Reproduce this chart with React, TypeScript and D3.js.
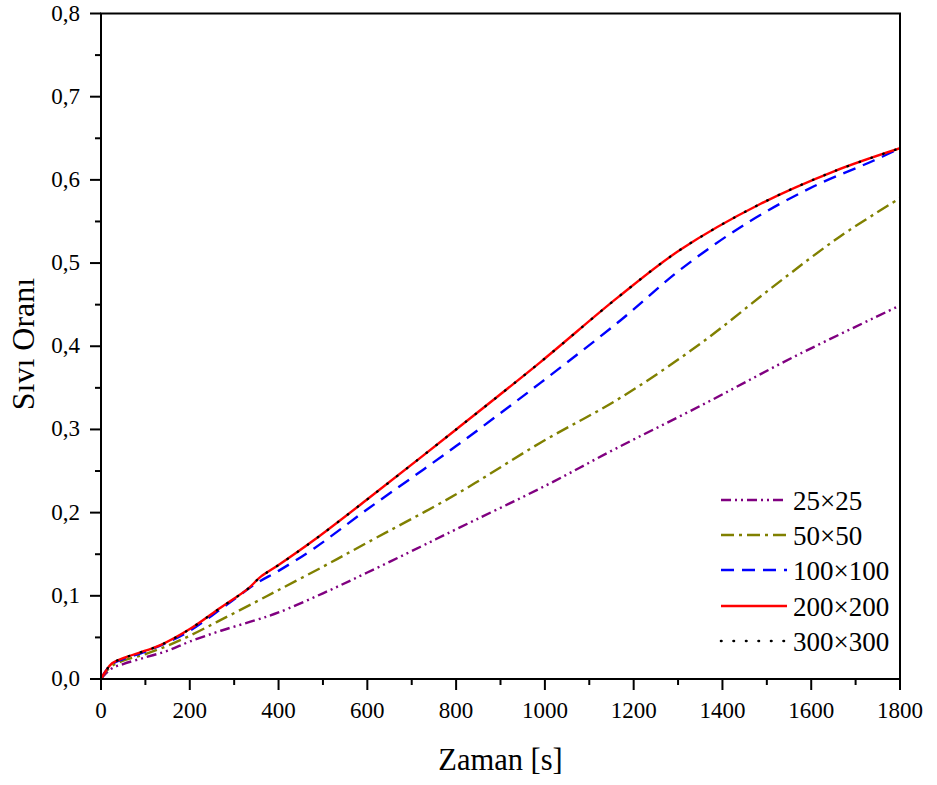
import React from "react";
import * as d3 from "d3";

const xTicks = [0, 200, 400, 600, 800, 1000, 1200, 1400, 1600, 1800];
const yTicks = [0, 0.1, 0.2, 0.3, 0.4, 0.5, 0.6, 0.7, 0.8];
const yTickLabels = ["0,0", "0,1", "0,2", "0,3", "0,4", "0,5", "0,6", "0,7", "0,8"];

const s25: [number, number][] = [
  [0, 0], [10, 0.006], [25, 0.013], [50, 0.018], [100, 0.026], [150, 0.034], [200, 0.045],
  [270, 0.058], [350, 0.071], [400, 0.08], [500, 0.103], [600, 0.128], [720, 0.159], [800, 0.18],
  [1000, 0.232], [1160, 0.277], [1360, 0.331], [1560, 0.387], [1800, 0.449],
];
const s50: [number, number][] = [
  [0, 0], [10, 0.008], [25, 0.016], [50, 0.022], [100, 0.03], [150, 0.04], [200, 0.052],
  [270, 0.071], [350, 0.093], [400, 0.107], [500, 0.135], [600, 0.164], [800, 0.222],
  [990, 0.284], [1170, 0.338], [1350, 0.403], [1515, 0.472], [1665, 0.532], [1800, 0.578],
];
const s100: [number, number][] = [
  [0, 0], [10, 0.009], [25, 0.018], [50, 0.024], [100, 0.033], [150, 0.044], [200, 0.058],
  [275, 0.086], [350, 0.115], [400, 0.13], [480, 0.157], [600, 0.204], [800, 0.28],
  [990, 0.356], [1170, 0.431], [1305, 0.492], [1455, 0.548], [1605, 0.592], [1740, 0.623], [1800, 0.638],
];
const s200: [number, number][] = [
  [0, 0], [10, 0.009], [25, 0.019], [50, 0.025], [100, 0.034], [135, 0.041], [200, 0.06],
  [270, 0.086], [330, 0.108], [360, 0.123], [400, 0.137], [480, 0.167], [600, 0.216], [800, 0.3],
  [990, 0.381], [1165, 0.459], [1305, 0.516], [1485, 0.571], [1650, 0.61], [1800, 0.638],
];
const s300: [number, number][] = s200.map(([t, v]) => [t, v]);

const seriesNames = ["25×25", "50×50", "100×100", "200×200", "300×300"];

const styles = [
  { color: "#800080", dash: "10,4,2,4,2,4", width: 2.4, cap: "butt" },
  { color: "#808000", dash: "13,5,3,5", width: 2.4, cap: "butt" },
  { color: "#0000FF", dash: "13,8", width: 2.4, cap: "butt" },
  { color: "#FF0000", dash: "", width: 2.4, cap: "butt" },
  { color: "#000000", dash: "0.5,12", width: 2.4, cap: "round" },
];

export default function App() {
  const W = 937, H = 785;
  const left = 101, right = 900, top = 13.5, bottom = 679;
  const x = d3.scaleLinear().domain([0, 1800]).range([left, right]);
  const y = d3.scaleLinear().domain([0, 0.8]).range([bottom, top]);
  const line = d3.line<[number, number]>().x((d) => x(d[0])).y((d) => y(d[1])).curve(d3.curveCatmullRom.alpha(0.5));
  const all = [s25, s50, s100, s200, s300];
  const font = "Liberation Serif, Times New Roman, serif";
  const ts = { fontFamily: font };
  const xMinor = d3.range(100, 1800, 200);
  const yMinor = d3.range(0.05, 0.8, 0.1);
  const legendY = [500, 535, 570, 606, 641];

  return (
    <svg width={W} height={H} style={{ position: "absolute", left: 0, top: 0 }}>
      <rect x={0} y={0} width={W} height={H} fill="#fff" />
      <defs>
        <clipPath id="plot">
          <rect x={left} y={top} width={right - left} height={bottom - top} />
        </clipPath>
      </defs>
      <g clipPath="url(#plot)">
        {all.map((s, i) => (
          <path key={i} d={line(s) || ""} fill="none" stroke={styles[i].color}
            strokeWidth={styles[i].width} strokeDasharray={styles[i].dash}
            strokeLinecap={styles[i].cap as any} />
        ))}
      </g>
      <rect x={left} y={top} width={right - left} height={bottom - top} fill="none" stroke="#000" strokeWidth={2} />
      {xTicks.map((t) => (
        <g key={"xt" + t}>
          <line x1={x(t)} x2={x(t)} y1={bottom} y2={bottom + 11} stroke="#000" strokeWidth={2} />
          <text x={x(t)} y={bottom + 39} fontSize={23} textAnchor="middle" style={ts}>{t}</text>
        </g>
      ))}
      {xMinor.map((t) => (
        <line key={"xm" + t} x1={x(t)} x2={x(t)} y1={bottom} y2={bottom + 6} stroke="#000" strokeWidth={2} />
      ))}
      {yTicks.map((v, i) => (
        <g key={"yt" + v}>
          <line x1={left - 11} x2={left} y1={y(v)} y2={y(v)} stroke="#000" strokeWidth={2} />
          <text x={left - 21} y={y(v) + 7} fontSize={23} textAnchor="end" style={ts}>{yTickLabels[i]}</text>
        </g>
      ))}
      {yMinor.map((v) => (
        <line key={"ym" + v} x1={left - 6} x2={left} y1={y(v)} y2={y(v)} stroke="#000" strokeWidth={2} />
      ))}
      <text x={500.5} y={770} fontSize={30.5} textAnchor="middle" style={ts}>Zaman [s]</text>
      <text transform={`translate(34, 344) rotate(-90)`} fontSize={32} textAnchor="middle" style={ts}>Sıvı Oranı</text>
      {seriesNames.map((n, i) => {
        const ly = legendY[i];
        return (
          <g key={n}>
            <line x1={721} x2={787} y1={ly} y2={ly} stroke={styles[i].color} strokeWidth={2.6}
              strokeDasharray={styles[i].dash} strokeLinecap={styles[i].cap as any} />
            <text x={793} y={ly + 10} fontSize={27} style={ts}>{n}</text>
          </g>
        );
      })}
    </svg>
  );
}
